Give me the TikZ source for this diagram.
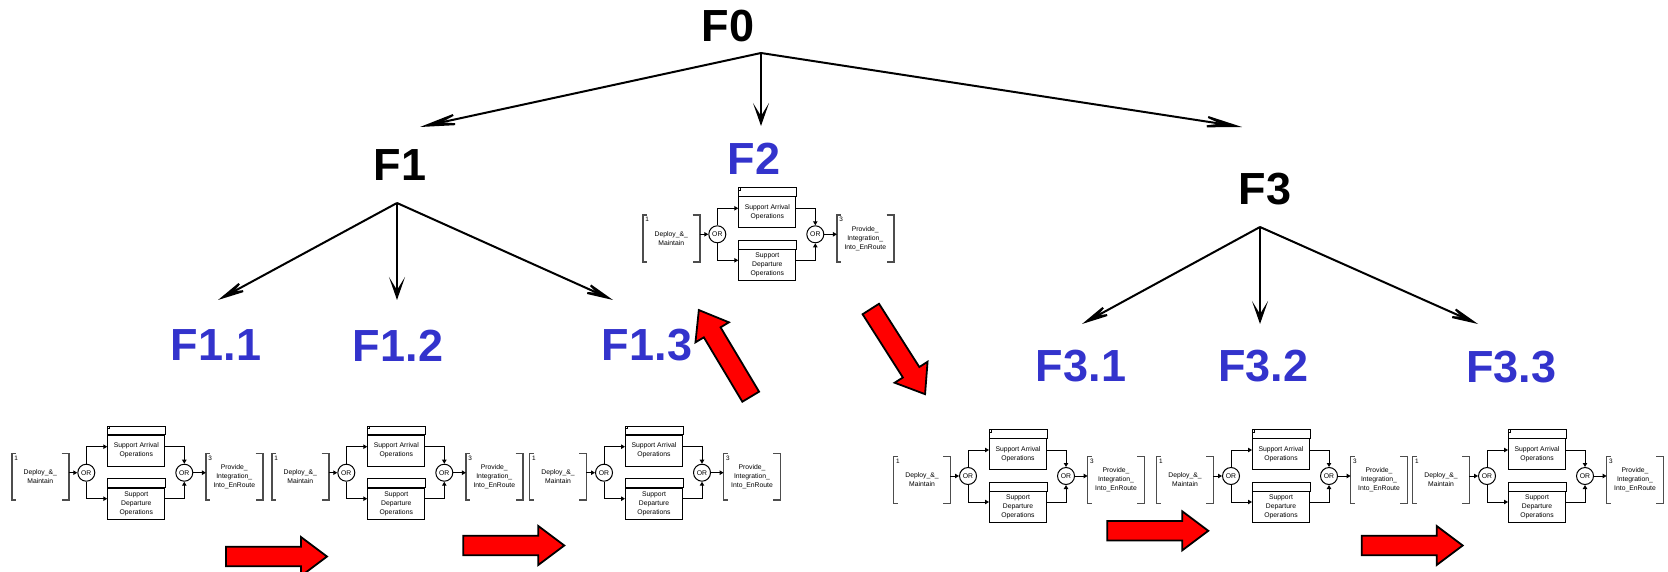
\documentclass[tikz,border=0pt]{standalone}
\usepackage{fontspec}
\setmainfont{Liberation Sans}
\usetikzlibrary{arrows.meta,calc}
\definecolor{fblue}{HTML}{3333CC}
\definecolor{brkgray}{HTML}{4D4D4D}
\newcommand\dgfont{\fontsize{3.4}{4.5}\selectfont}
\newcommand\dgnumfont{\fontsize{3.2}{3.6}\selectfont}
\tikzset{
  big/.style={font=\fontsize{22.5}{27}\selectfont\bfseries, inner sep=0pt},
  blk/.style={big, text=black},
  blu/.style={big, text=fblue},
  tarr/.style={line width=1pt, -{Stealth[length=11.5pt,width=8pt,inset=6.5pt]}},
  tarrd/.style={line width=1pt, -{Stealth[length=19pt,width=7.5pt,inset=10pt]}},
  tarrl/.style={line width=1pt, -{Stealth[length=26pt,width=8.5pt,inset=15pt]}},
  brk/.style={minimum width=28pt, minimum height=23pt, inner sep=0pt, align=center, font=\dgfont},
  brkline/.style={draw=brkgray, line width=0.8pt},
  fbox/.style={draw, line width=0.5pt, minimum width=28.5pt, minimum height=15.5pt, inner sep=0pt, align=center, font=\dgfont},
  ornode/.style={draw, circle, minimum size=8.5pt, inner sep=0pt, line width=0.5pt, font=\dgfont},
  sarr/.style={line width=0.5pt, -{Triangle[length=2pt,width=2.2pt]}},
  num/.style={anchor=north west, inner sep=1pt, font=\dgnumfont},
  redarr/.style={fill=red, draw=black, line width=0.9pt, line join=miter},
  pics/fdiag/.style={code={
    \node[brk] (L) at (28,50) {Deploy\_\&\_\\Maintain};
    \draw[brkline] ([xshift=2pt]L.north west) -- (L.north west) -- (L.south west) -- ([xshift=2pt]L.south west);
    \draw[brkline] ([xshift=-3.5pt]L.north east) -- (L.north east) -- (L.south east) -- ([xshift=-3.5pt]L.south east);
    \node[num] (Ln) at (L.north west) {1};
    \node[ornode] (O1) at (74,46) {OR};
    \node[fbox] (A) at (124,24) {Support Arrival\\Operations};
    \draw[line width=0.5pt] (A.north west) rectangle ([yshift=4.25pt]A.north east);
    \draw[line width=0.4pt] ([yshift=4.25pt]A.north west) rectangle ++(2.5,2.5);
    \node[fbox] (D) at (124,77) {Support\\Departure\\Operations};
    \draw[line width=0.5pt] (D.north west) rectangle ([yshift=4.5pt]D.north east);
    \node[ornode] (O2) at (172,46) {OR};
    \node[brk] (R) at (222,50) {Provide\_\\Integration\_\\Into\_EnRoute};
    \draw[brkline] ([xshift=2pt]R.north west) -- (R.north west) -- (R.south west) -- ([xshift=2pt]R.south west);
    \draw[brkline] ([xshift=-3.5pt]R.north east) -- (R.north east) -- (R.south east) -- ([xshift=-3.5pt]R.south east);
    \node[num] (Rn) at (R.north west) {3};
    \draw[sarr] (L.east |- O1) -- (O1);
    \draw[sarr] (O1.north) |- ([yshift=2pt]A.west);
    \draw[sarr] (O1.south) |- ([yshift=2.5pt]D.west);
    \draw[sarr] ([yshift=2pt]A.east) -| (O2.north);
    \draw[sarr] ([yshift=2.5pt]D.east) -| (O2.south);
    \draw[sarr] (O2) -- (R.west |- O2);
  }},
  pics/redarrow/.style={code={
    \draw[redarr] (0,-9.75) -- (75,-9.75) -- (75,-19.5) -- (101,0) -- (75,19.5) -- (75,9.75) -- (0,9.75) -- cycle;
  }}
}
\begin{document}
\begin{tikzpicture}[x=0.5pt,y=-0.5pt]
\useasboundingbox (0,0) rectangle (1668,572);
\clip (0,0) rectangle (1668,572);

% level labels
\node[blk] (F0) at (728,26.5) {F0};
\node[blk] (F1) at (400,165) {F1};
\node[blu] (F2) at (754,159) {F2};
\node[blk] (F3) at (1265,189.5) {F3};
\node[blu] (F11) at (216,345.5) {F1.1};
\node[blu] (F12) at (398,345.5) {F1.2};
\node[blu] (F13) at (647,345.5) {F1.3};
\node[blu] (F31) at (1081,366.5) {F3.1};
\node[blu] (F32) at (1263,366.5) {F3.2};
\node[blu] (F33) at (1511,367) {F3.3};

% tree connectors
\coordinate (r0) at (761,53);
\coordinate (t01) at (420,127);
\coordinate (t02) at (761,126);
\coordinate (t03) at (1242,127);
\draw[tarrl] (r0) -- (t01);
\draw[tarr] (r0) -- (t02);
\draw[tarrl] (r0) -- (t03);

\coordinate (r1) at (397,203);
\coordinate (t11) at (218,300);
\coordinate (t12) at (397,300);
\coordinate (t13) at (613,300);
\draw[tarrd] (r1) -- (t11);
\draw[tarr] (r1) -- (t12);
\draw[tarrd] (r1) -- (t13);

\coordinate (r3) at (1260,227);
\coordinate (t31) at (1082,324);
\coordinate (t32) at (1260,324);
\coordinate (t33) at (1478,324);
\draw[tarrd] (r3) -- (t31);
\draw[tarr] (r3) -- (t32);
\draw[tarrd] (r3) -- (t33);

% function flow diagrams
\pic (p2) at (643.3,188.3) {fdiag};
\pic (b1) at (12.3,426.7) {fdiag};
\pic (b2) at (272.3,426.7) {fdiag};
\pic (b3) at (530,426.7) {fdiag};
\pic (b4) at (894,430) {fdiag};
\pic (b5) at (1157,430) {fdiag};
\pic (b6) at (1413,430) {fdiag};

% red block arrows
\pic at (226,556.5) {redarrow};
\pic at (463.3,545.5) {redarrow};
\pic at (1107.3,530.8) {redarrow};
\pic at (1361.7,545.5) {redarrow};
\pic[rotate=120.9] at (750.7,396.7) {redarrow};
\pic[rotate=-57.5] at (870.8,309) {redarrow};
\end{tikzpicture}
\end{document}
